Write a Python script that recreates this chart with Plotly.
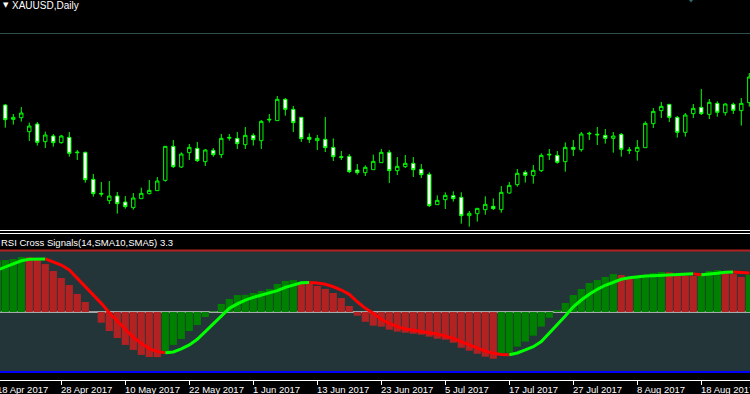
import numpy as np
import pandas as pd
import plotly.graph_objects as go

# ---------------- data ----------------
# trading days shown (first one only feeds the indicator at the left edge)
dates = pd.bdate_range("2017-04-18", periods=95)

# XAUUSD daily candles, 19 Apr 2017 .. 28 Aug 2017
candle_open = [1290.24, 1279.92, 1281.12, 1271.04, 1276.56, 1263.84, 1267.92, 1263.12, 1266.96, 1256.40,
               1256.16, 1236.72, 1226.64, 1221.36, 1224.72, 1220.40, 1216.32, 1222.80, 1226.40, 1228.56,
               1236.00, 1260.48, 1245.60, 1255.92, 1259.04, 1249.44, 1257.60, 1254.48, 1266.96, 1266.24,
               1261.68, 1268.40, 1264.56, 1279.44, 1278.96, 1294.32, 1287.12, 1281.36, 1266.96, 1264.56,
               1265.52, 1259.76, 1253.04, 1253.28, 1243.44, 1241.52, 1243.68, 1248.72, 1256.16, 1242.96,
               1245.84, 1248.24, 1243.92, 1240.32, 1218.48, 1222.08, 1224.96, 1223.76, 1210.56, 1212.00,
               1214.88, 1217.28, 1214.88, 1226.88, 1232.88, 1241.76, 1239.36, 1242.96, 1254.24, 1254.00,
               1249.44, 1259.76, 1258.08, 1269.36, 1268.64, 1268.40, 1266.24, 1269.12, 1257.36, 1256.88,
               1259.52, 1276.80, 1286.16, 1290.72, 1281.36, 1270.56, 1284.00, 1288.56, 1283.52, 1291.44,
               1284.72, 1290.72, 1286.16, 1291.92]
candle_high = [1290.96, 1283.76, 1288.80, 1277.52, 1278.00, 1271.04, 1269.36, 1268.64, 1270.80, 1257.84,
               1256.64, 1240.56, 1234.80, 1235.52, 1227.60, 1224.72, 1226.88, 1230.72, 1236.24, 1238.40,
               1260.48, 1265.04, 1256.16, 1262.16, 1263.60, 1258.56, 1259.28, 1269.36, 1269.36, 1270.80,
               1274.40, 1269.84, 1279.44, 1283.76, 1296.72, 1295.28, 1289.52, 1281.36, 1269.84, 1268.64,
               1281.60, 1266.24, 1257.12, 1254.96, 1247.76, 1246.80, 1254.48, 1258.56, 1257.84, 1252.80,
               1254.24, 1252.80, 1247.76, 1241.76, 1225.20, 1227.36, 1228.08, 1227.36, 1213.92, 1215.84,
               1224.48, 1223.04, 1231.92, 1234.80, 1244.16, 1243.20, 1247.04, 1255.44, 1258.56, 1257.12,
               1263.36, 1265.04, 1270.80, 1271.04, 1274.40, 1272.96, 1270.80, 1270.08, 1260.00, 1265.04,
               1278.48, 1288.08, 1292.40, 1290.72, 1282.32, 1284.48, 1290.96, 1301.76, 1294.56, 1292.88,
               1291.44, 1291.92, 1295.28, 1313.28]
candle_low = [1273.92, 1276.08, 1278.24, 1264.32, 1260.96, 1259.28, 1260.24, 1262.40, 1253.04, 1250.64,
              1234.32, 1224.24, 1224.24, 1218.96, 1212.00, 1215.60, 1214.88, 1222.80, 1225.92, 1228.32,
              1235.04, 1244.88, 1244.88, 1250.64, 1249.20, 1246.32, 1253.04, 1252.08, 1264.56, 1258.56,
              1258.56, 1260.96, 1258.56, 1277.52, 1278.96, 1282.56, 1270.80, 1263.60, 1262.88, 1257.84,
              1256.40, 1249.92, 1250.64, 1241.28, 1240.08, 1239.12, 1243.68, 1248.72, 1234.08, 1239.84,
              1244.88, 1238.40, 1237.68, 1216.80, 1218.48, 1215.36, 1220.64, 1204.80, 1202.64, 1206.24,
              1211.28, 1214.64, 1212.72, 1226.40, 1231.44, 1234.32, 1233.60, 1242.00, 1250.64, 1248.00,
              1242.24, 1253.52, 1256.64, 1265.04, 1261.44, 1262.40, 1255.92, 1253.04, 1254.96, 1250.16,
              1259.52, 1273.68, 1280.88, 1278.00, 1266.72, 1267.44, 1280.88, 1283.04, 1280.16, 1281.84,
              1282.56, 1283.76, 1275.36, 1289.04]
candle_close = [1279.68, 1281.36, 1284.48, 1275.12, 1263.36, 1268.64, 1263.12, 1267.92, 1255.44, 1255.92,
                1236.48, 1226.40, 1226.16, 1224.72, 1219.20, 1217.04, 1223.28, 1226.64, 1228.80, 1235.52,
                1260.48, 1245.84, 1254.96, 1259.76, 1250.16, 1257.84, 1254.48, 1266.24, 1266.48, 1262.40,
                1268.40, 1265.28, 1278.48, 1279.92, 1294.32, 1287.12, 1277.52, 1266.00, 1265.52, 1266.24,
                1259.52, 1253.04, 1252.56, 1242.24, 1241.52, 1245.36, 1249.68, 1256.16, 1242.96, 1246.08,
                1248.24, 1243.68, 1240.08, 1217.76, 1221.60, 1225.20, 1222.80, 1210.56, 1212.24, 1215.84,
                1218.72, 1215.60, 1227.36, 1232.40, 1241.04, 1239.60, 1243.20, 1254.00, 1254.72, 1248.96,
                1259.76, 1258.32, 1269.36, 1269.84, 1269.12, 1266.24, 1267.92, 1258.32, 1257.84, 1259.76,
                1277.04, 1285.68, 1289.28, 1281.36, 1270.56, 1283.04, 1287.84, 1284.00, 1292.16, 1284.96,
                1290.96, 1286.40, 1291.44, 1310.40]

# RSI Cross Signals (14, SMA10, SMA5) – histogram (RSI) and signal line, 18 Apr .. 28 Aug
rsi_hist = [92.0, 92.6, 93.4, 95.1, 94.8, 93.2, 89.3, 83.6, 77.9, 72.1,
            64.8, 58.2, 50.1, 41.2, 34.4, 28.7, 23.0, 18.9, 14.8, 13.1,
            13.0, 18.0, 23.0, 27.9, 34.4, 39.3, 45.9, 50.6, 56.6, 60.7,
            63.9, 64.1, 65.6, 67.2, 68.9, 73.0, 75.4, 76.2, 74.6, 73.2,
            71.3, 68.9, 65.6, 61.5, 54.9, 47.0, 42.0, 38.8, 38.0, 35.5,
            33.9, 33.0, 32.2, 31.4, 29.8, 28.1, 27.3, 24.8, 20.7, 18.3,
            15.8, 13.4, 11.7, 16.1, 16.6, 21.6, 25.7, 30.6, 38.0, 45.3,
            51.6, 57.4, 63.9, 68.9, 73.8, 76.2, 78.7, 81.1, 80.3, 77.9,
            79.5, 80.3, 82.0, 82.8, 82.5, 81.1, 79.8, 79.5, 80.3, 83.6,
            84.4, 82.8, 81.1, 78.7, 80.6]
rsi_signal = [84.4, 87.1, 89.3, 92.0, 93.2, 93.4, 93.5, 91.2, 88.5, 84.4,
              77.6, 70.7, 63.9, 57.1, 49.4, 42.6, 35.8, 29.3, 24.3, 19.9,
              17.5, 16.6, 17.2, 19.7, 23.0, 27.6, 33.9, 40.7, 47.3, 53.0,
              56.6, 59.8, 62.0, 63.9, 65.3, 67.5, 70.2, 72.4, 74.0, 74.1,
              73.8, 72.7, 70.7, 68.0, 64.5, 58.4, 53.0, 48.9, 44.0, 40.7,
              38.0, 36.1, 35.2, 34.2, 33.0, 32.0, 30.3, 28.4, 25.7, 23.0,
              20.2, 18.0, 16.1, 15.2, 15.0, 16.4, 18.9, 21.6, 25.7, 32.5,
              39.3, 46.7, 54.3, 59.8, 64.5, 68.6, 71.9, 74.6, 76.8, 78.1,
              78.9, 79.5, 79.8, 80.1, 80.9, 81.1, 81.2, 81.25, 80.6, 80.9,
              81.7, 82.5, 82.8, 82.5, 82.0]
rsi_mid = 50

tick_labels = ["18 Apr 2017", "28 Apr 2017", "10 May 2017", "22 May 2017", "1 Jun 2017",
               "13 Jun 2017", "23 Jun 2017", "5 Jul 2017", "17 Jul 2017", "27 Jul 2017",
               "8 Aug 2017", "18 Aug 2017"]

symbol_title = "XAUUSD,Daily"
indicator_title = "RSI Cross Signals(14,SMA10,SMA5) 3.3"

# ---------------- geometry helpers ----------------
W, H = 750, 394
def py(p):  # pixel row -> paper y
    return 1 - p / H

pos = np.arange(len(dates)) - 1          # bar index (first day sits just left of the view)
cpos = pos[1:]                            # candles
x_range = [-5.3 / 8, (W - 5.3) / 8]
def xpaper(v):  # data x -> paper x (same linear scale as the axes)
    return (v - x_range[0]) / (x_range[1] - x_range[0])

tick_pos = [int(dates.get_loc(pd.to_datetime(t, format="%d %b %Y"))) - 1 for t in tick_labels]

UP_H, DN_H = "#008000", "#B22222"
UP_L, DN_L = "#00FF00", "#FF0000"
IND_BG = "#233538"

fig = go.Figure()

fig.add_trace(go.Candlestick(
    x=cpos, open=candle_open, high=candle_high, low=candle_low, close=candle_close,
    increasing=dict(line=dict(color="#00FF00", width=1), fillcolor="#000000"),
    decreasing=dict(line=dict(color="#00FF00", width=1), fillcolor="#FFFFFF"),
    whiskerwidth=0, xaxis="x", yaxis="y", hoverinfo="skip", showlegend=False))

# histogram colours: rising = green, falling = red
hist_cols = [UP_H] + [UP_H if rsi_hist[i] >= rsi_hist[i - 1] else DN_H for i in range(1, len(rsi_hist))]
fig.add_trace(go.Bar(
    x=pos, y=[v - rsi_mid for v in rsi_hist], base=rsi_mid,
    marker=dict(color=hist_cols, line=dict(width=0)),
    xaxis="x2", yaxis="y2", hoverinfo="skip", showlegend=False))

# signal line split into rising / falling runs
i = 0
n = len(rsi_signal)
while i < n - 1:
    up = rsi_signal[i + 1] >= rsi_signal[i]
    j = i
    while j < n - 1 and (rsi_signal[j + 1] >= rsi_signal[j]) == up:
        j += 1
    fig.add_trace(go.Scatter(
        x=pos[i:j + 1], y=rsi_signal[i:j + 1], mode="lines",
        line=dict(color=UP_L if up else DN_L, width=3),
        xaxis="x2", yaxis="y2", hoverinfo="skip", showlegend=False))
    i = j

shapes = [
    # indicator window background
    dict(type="rect", xref="paper", yref="paper", x0=0, x1=1, y0=py(372), y1=py(251),
         fillcolor=IND_BG, line=dict(width=0), layer="below"),
    # zero (50) level
    dict(type="line", xref="paper", yref="y2", x0=0, x1=1, y0=rsi_mid, y1=rsi_mid,
         line=dict(color="#D0D0D0", width=1.5), layer="below"),
    # top / bottom bands
    dict(type="line", xref="paper", yref="paper", x0=0, x1=1, y0=py(250.5), y1=py(250.5),
         line=dict(color="#B22222", width=2)),
    dict(type="line", xref="paper", yref="paper", x0=0, x1=1, y0=py(372), y1=py(372),
         line=dict(color="#0000FF", width=2)),
    # price window horizontal line
    dict(type="line", xref="paper", yref="paper", x0=0, x1=1, y0=py(33.5), y1=py(33.5),
         line=dict(color="#2F4F4F", width=1)),
    # window separators
    dict(type="line", xref="paper", yref="paper", x0=0, x1=1, y0=py(230.5), y1=py(230.5),
         line=dict(color="#FFFFFF", width=1)),
    dict(type="line", xref="paper", yref="paper", x0=0, x1=1, y0=py(233.5), y1=py(233.5),
         line=dict(color="#FFFFFF", width=1)),
    # small marker at top
    dict(type="path", xref="paper", yref="paper",
         path=f"M {689/W} {py(0)} L {693/W} {py(0)} L {691/W} {py(2.5)} Z",
         fillcolor="#2F6F6F", line=dict(width=0)),
]

FONT = "Liberation Sans, Arial, sans-serif"
annotations = [
    dict(text="▼", xref="paper", yref="paper", x=1 / W, y=py(5), xanchor="left", yanchor="middle",
         showarrow=False, font=dict(size=7, color="#FFFFFF", family="DejaVu Sans")),
    dict(text=symbol_title, xref="paper", yref="paper", x=10 / W, y=py(5.5), xanchor="left",
         yanchor="middle", showarrow=False, font=dict(size=10, color="#FFFFFF", family=FONT)),
    dict(text=indicator_title, xref="paper", yref="paper", x=-1 / W, y=py(242.5), xanchor="left",
         yanchor="middle", showarrow=False, font=dict(size=9.5, color="#FFFFFF", family=FONT)),
]
for tp, tl in zip(tick_pos, tick_labels):
    annotations.append(dict(text=tl, xref="paper", yref="paper", x=xpaper(tp), y=py(389),
                            xanchor="left", yanchor="middle", xshift=-2, showarrow=False,
                            font=dict(size=9.5, color="#FFFFFF", family=FONT)))

fig.update_layout(
    width=W, height=H, margin=dict(l=0, r=0, t=0, b=0),
    paper_bgcolor="#000000", plot_bgcolor="#000000",
    showlegend=False, hovermode=False, bargap=0.1, boxgap=0.4,
    xaxis=dict(domain=[0, 1], range=x_range, anchor="y", visible=False,
               rangeslider=dict(visible=False), fixedrange=True),
    yaxis=dict(domain=[py(230), 1], range=[1200.24, 1365.84], visible=False, fixedrange=True),
    xaxis2=dict(domain=[0, 1], range=x_range, anchor="y2", matches="x",
                showline=True, linecolor="#FFFFFF", linewidth=1,
                ticks="outside", ticklen=4, tickcolor="#FFFFFF", tickwidth=1,
                tickvals=tick_pos, showticklabels=False, showgrid=False, zeroline=False,
                fixedrange=True),
    yaxis2=dict(domain=[py(380), py(250)], range=[-5.74, 100.82], visible=False, fixedrange=True),
    shapes=shapes, annotations=annotations,
)

fig.write_html("out.html", config={"displayModeBar": False, "staticPlot": True})
